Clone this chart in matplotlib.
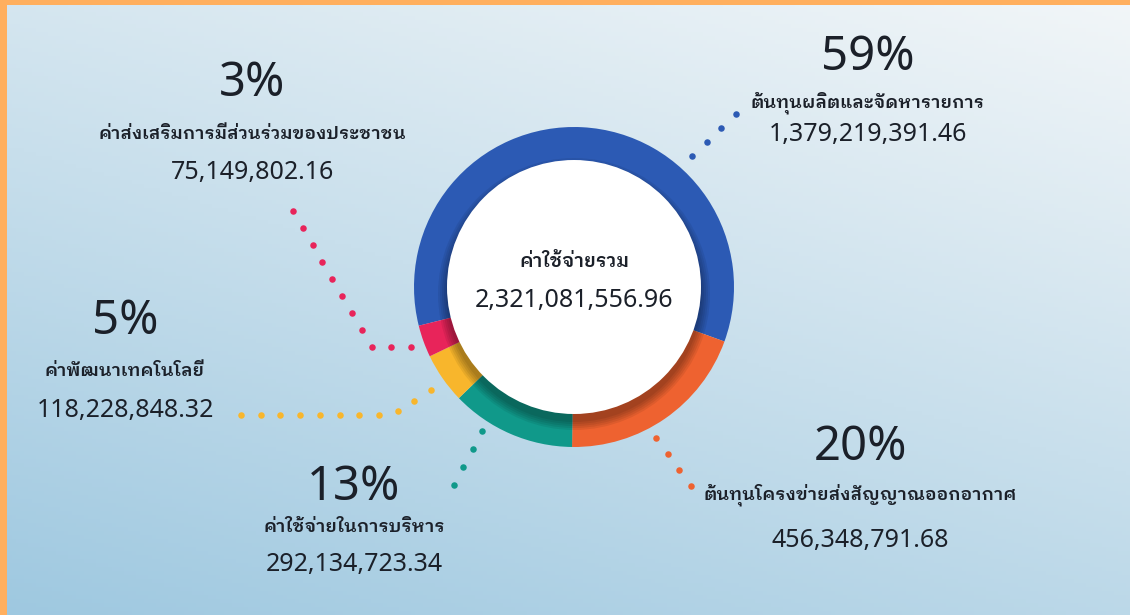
import numpy as np
import matplotlib
matplotlib.use("Agg")
from matplotlib import pyplot as plt
from matplotlib.patches import Circle, Rectangle

# data
names = ["ต้นทุนผลิตและจัดหารายการ",
         "ต้นทุนโครงข่ายส่งสัญญาณออกอากาศ",
         "ค่าใช้จ่ายในการบริหาร",
         "ค่าพัฒนาเทคโนโลยี",
         "ค่าส่งเสริมการมีส่วนร่วมของประชาชน"]
amounts = [1379219391.46, 456348791.68, 292134723.34, 118228848.32, 75149802.16]
colors = ["#2c5ab4", "#ee6230", "#10998a", "#f8b62c", "#e8245a"]
total_label = "ค่าใช้จ่ายรวม"

W, H = 1130, 615
THAI = ["IBM Plex Sans Thai Looped", "Noto Sans Thai Looped", "DejaVu Sans"]
NUM = ["Noto Sans", "DejaVu Sans"]
INK = "#1b2029"


def Y(y):
    # picture rows -> axes y (up)
    return H - y


def dots_along(pts, step=20):
    pts = np.array([(x, Y(y)) for x, y in pts], dtype=float)
    seg = np.hypot(*np.diff(pts, axis=0).T)
    cum = np.concatenate([[0], np.cumsum(seg)])
    n = max(1, int(round(cum[-1] / step)))
    s = np.linspace(0, cum[-1], n + 1)
    return np.interp(s, cum, pts[:, 0]), np.interp(s, cum, pts[:, 1])


fig = plt.figure(figsize=(W / 100, H / 100), dpi=100)
ax = fig.add_axes([0, 0, 1, 1])

# background
yy, xx = np.mgrid[0:H:4, 0:W:4]
t = 0.65 * yy / H + 0.35 * (1 - xx / W)
c0 = np.array([242, 246, 248]) / 255
c1 = np.array([158, 200, 224]) / 255
bg = c0 + (c1 - c0) * t[..., None]
ax.imshow(bg, extent=[0, W, 0, H], origin="upper", aspect="auto", zorder=0)

cx, cy = 574, Y(287)
wedges, _ = ax.pie(amounts, colors=colors, startangle=194, counterclock=False,
                   center=(cx, cy), radius=160,
                   wedgeprops=dict(width=48, linewidth=0), frame=True)
for w in wedges:
    w.set_zorder(2)

# soft shadow under the white disc
for r in range(128, 138, 2):
    ax.add_patch(Circle((cx, cy - 7), r, color="black", alpha=0.07, lw=0, zorder=3))
ax.add_patch(Circle((cx, cy), 127, color="white", lw=0, zorder=4))

total = sum(amounts)
ax.text(cx, Y(262), total_label, ha="center", va="center", fontsize=13.5,
        fontweight="semibold", family=THAI, color=INK, zorder=5)
ax.text(cx, Y(300), f"{total:,.2f}", ha="center", va="center", fontsize=18,
        family=NUM, color=INK, zorder=5)

# label blocks: (x, pct y, name y, value y)
blocks = [(868, 58, 103, 135),
          (860, 448, 495, 541),
          (354, 488, 527, 565),
          (125, 322, 371, 411),
          (252, 83, 134, 173)]
leaders = [[(692, 156), (736, 114)],
           [(656, 438), (691, 486)],
           [(482, 431), (454, 485)],
           [(431, 390), (392, 415), (241, 415)],
           [(411, 347), (371, 347), (293, 211)]]

for amt, name, col, (bx, py, ny, vy), path in zip(amounts, names, colors, blocks, leaders):
    ax.text(bx, Y(py), f"{amt / total * 100:.0f}%", ha="center", va="center",
            fontsize=34, family=NUM, color=INK, zorder=5)
    ax.text(bx, Y(ny), name, ha="center", va="center", fontsize=13,
            fontweight="semibold", family=THAI, color=INK, zorder=5)
    ax.text(bx, Y(vy), f"{amt:,.2f}", ha="center", va="center", fontsize=18,
            family=NUM, color=INK, zorder=5)
    dx, dy = dots_along(path)
    ax.scatter(dx, dy, s=22, color=col, lw=0, zorder=5)

# orange frame on the top and left
ax.add_patch(Rectangle((0, 0), 7, H, color="#ffaf5e", lw=0, zorder=6))
ax.add_patch(Rectangle((0, H - 5), W, 5, color="#ffaf5e", lw=0, zorder=6))

ax.set_xlim(0, W)
ax.set_ylim(0, H)
ax.set_aspect("auto")
ax.axis("off")
fig.savefig("out.png", dpi=100)
